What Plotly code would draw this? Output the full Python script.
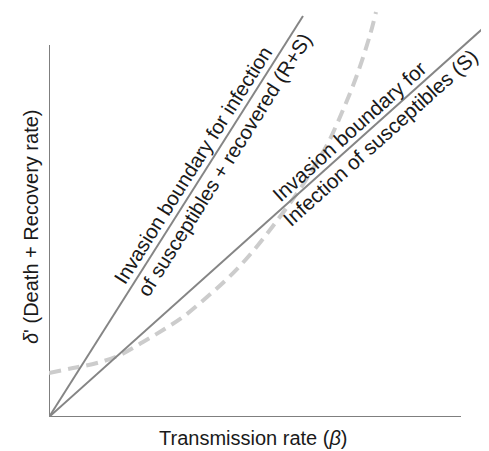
import math
import plotly.graph_objects as go

# Conceptual chart (no tick values); arbitrary units
steep_x = [0, 254]
steep_y = [0, 401]
shallow_x = [0, 440]
shallow_y = [0, 394]
curve_x = [0, 24, 48, 71, 94, 114, 134, 158, 178, 199, 224, 251, 265, 279, 294, 308, 321, 327]
curve_y = [44, 49, 54, 62, 75, 87, 100, 120, 138, 160, 191, 228, 250, 274, 307, 342, 382, 405]
axis_x_end = 412
axis_y_end = 372

x_title = "Transmission rate (<i>β</i>)"
y_title = "<i>δ</i>' (Death + Recovery rate)"
steep_labels = ["Invasion boundary for infection", "of susceptibles + recovered (R+S)"]
shallow_labels = ["Invasion boundary for", "Infection of susceptibles (S)"]

FONT = "Liberation Sans, Arial, sans-serif"

# page has an 8px body margin; the figure is sized to fill the rest of the window
W, H = 481, 443
L, B = 41, 34
XR = [0, 440]
YR = [0, 409]

fig = go.Figure()
fig.add_trace(go.Scatter(x=[0, axis_x_end], y=[0, 0], mode="lines",
                         line=dict(color="#555555", width=1.5), hoverinfo="skip"))
fig.add_trace(go.Scatter(x=[0, 0], y=[0, axis_y_end], mode="lines",
                         line=dict(color="#555555", width=1.5), hoverinfo="skip"))
fig.add_trace(go.Scatter(x=curve_x, y=curve_y, mode="lines", line_shape="spline",
                         line=dict(color="#cccccc", width=4, dash="12px,7px"), hoverinfo="skip"))
fig.add_trace(go.Scatter(x=steep_x, y=steep_y, mode="lines",
                         line=dict(color="#858585", width=2), hoverinfo="skip"))
fig.add_trace(go.Scatter(x=shallow_x, y=shallow_y, mode="lines",
                         line=dict(color="#858585", width=2), hoverinfo="skip"))

def line_label(lx, ly, text, along, perp, size):
    Ln = math.hypot(lx[1] - lx[0], ly[1] - ly[0])
    ux, uy = (lx[1] - lx[0]) / Ln, (ly[1] - ly[0]) / Ln
    nx, ny = -uy, ux
    ang = math.degrees(math.atan2(uy, ux))
    fig.add_annotation(x=lx[0] + along * ux + perp * nx, y=ly[0] + along * uy + perp * ny,
                       xref="x", yref="y",
                       text=text, showarrow=False, textangle=-ang,
                       xanchor="center", yanchor="middle",
                       font=dict(family=FONT, size=size, color="#1a1a1a"))

line_label(steep_x, steep_y, steep_labels[0], 290, 13, 20.3)
line_label(steep_x, steep_y, steep_labels[1], 307, -13, 20.3)
line_label(shallow_x, shallow_y, shallow_labels[0], 414, 13, 20.6)
line_label(shallow_x, shallow_y, shallow_labels[1], 433, -13, 20.6)

fig.add_annotation(x=(245 - L) / 440, y=-21 / 409, xref="paper", yref="paper",
                   text=x_title, showarrow=False, xanchor="center", yanchor="middle",
                   font=dict(family=FONT, size=20, color="#1a1a1a"))
fig.add_annotation(x=(23 - L) / 440, y=(409 - 219) / 409, xref="paper", yref="paper",
                   text=y_title, showarrow=False, textangle=-90,
                   xanchor="center", yanchor="middle",
                   font=dict(family=FONT, size=20, color="#1a1a1a"))

fig.update_layout(
    width=W, height=H,
    margin=dict(l=L, r=0, t=0, b=B),
    paper_bgcolor="white", plot_bgcolor="white",
    showlegend=False,
    xaxis=dict(range=XR, visible=False, fixedrange=True),
    yaxis=dict(range=YR, visible=False, fixedrange=True),
)

fig.write_html("out.html", config={"displayModeBar": False})
